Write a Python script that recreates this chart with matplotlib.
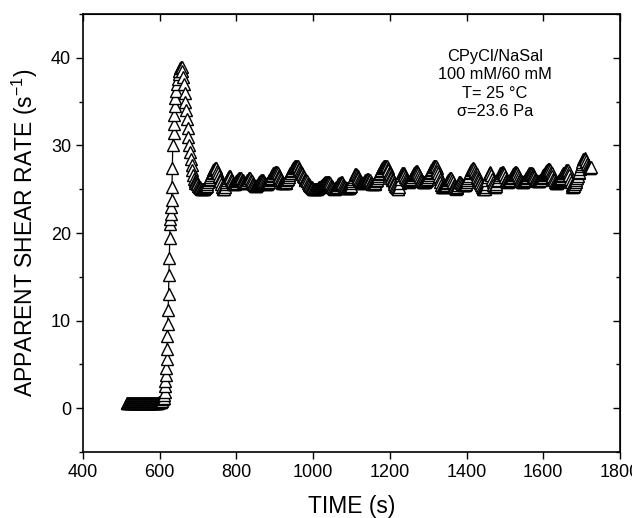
import numpy as np
import matplotlib
matplotlib.use("Agg")
import matplotlib.pyplot as plt
from matplotlib.ticker import MultipleLocator

plt.rcParams['font.family'] = ['Liberation Sans', 'DejaVu Sans']

# --- data ---
# low plateau before onset: sampled every 2 s from 514 s (shear rate 1/s)
t_low_start = 514
t_low_step = 2
v_low = [0.6, 0.6, 0.6, 0.6, 0.6, 0.6, 0.6, 0.6, 0.6, 0.6, 0.6, 0.6, 0.6, 0.6, 0.6,
         0.6, 0.6, 0.6, 0.6, 0.6, 0.6, 0.6, 0.6, 0.6, 0.6, 0.6, 0.6, 0.6, 0.6, 0.6,
         0.6, 0.6, 0.6, 0.6, 0.6, 0.6, 0.6, 0.6, 0.6, 0.6, 0.6, 0.6, 0.7, 0.7, 0.7, 0.7]

# onset, overshoot and relaxation
t_rise = [606, 608, 610, 612, 613, 614, 615, 616, 617, 618, 619, 620, 621, 622, 623,
          624, 625, 626, 627, 628, 629, 630, 631, 632, 633, 634, 636, 637, 638, 640,
          641, 643, 645, 647, 649, 651, 653, 655, 657, 659, 661, 663, 665, 667, 669,
          671, 673, 675, 677, 679, 681, 683, 685, 687, 689, 691, 693]
v_rise = [0.8, 1.0, 1.2, 1.5, 1.9, 2.5, 3.1, 3.8, 4.6, 5.6, 6.8, 8.2, 9.6, 11.2, 13.0,
          15.2, 17.2, 19.4, 21.0, 21.6, 22.2, 23.0, 23.8, 25.2, 27.4, 30.0, 31.4, 32.5, 33.5, 34.5,
          35.4, 36.2, 37.0, 37.6, 38.1, 38.5, 38.8, 39.0, 38.9, 38.5, 37.8, 37.0, 36.0, 35.0, 34.0,
          33.0, 32.0, 31.0, 30.0, 29.2, 28.5, 27.8, 27.2, 26.6, 26.2, 25.9, 25.7]

# steady state, sampled every 2 s starting at 696 s (one row = 40 s)
t_ss_start = 696
t_ss_step = 2
v_ss = [
    25.8, 25.6, 25.4, 25.3, 25.2, 25.1, 25.0, 25.0, 25.0, 25.0, 25.0, 25.1, 25.3, 25.4, 25.6, 25.8, 26.0, 26.2, 26.4, 26.6,
    26.8, 27.0, 27.2, 27.3, 27.4, 27.4, 27.4, 27.1, 26.8, 26.5, 26.2, 25.9, 25.6, 25.3, 25.0, 25.0, 25.0, 25.3, 25.6, 25.8,
    26.1, 26.3, 26.5, 26.5, 26.4, 26.1, 25.9, 25.7, 25.6, 25.6, 25.6, 25.7, 25.9, 26.0, 26.2, 26.3, 26.3, 26.3, 26.3, 26.1,
    26.0, 25.8, 25.7, 25.7, 25.7, 25.8, 26.0, 26.1, 26.3, 26.3, 26.3, 26.1, 25.9, 25.7, 25.6, 25.5, 25.4, 25.4, 25.4, 25.5,
    25.6, 25.7, 25.8, 25.9, 26.0, 26.0, 26.0, 25.9, 25.8, 25.7, 25.6, 25.6, 25.6, 25.7, 25.8, 26.0, 26.2, 26.3, 26.5, 26.6,
    26.8, 26.9, 27.0, 27.0, 27.0, 27.0, 26.9, 26.6, 26.4, 26.2, 26.0, 25.8, 25.7, 25.7, 25.7, 25.7, 25.7, 25.8, 26.0, 26.2,
    26.4, 26.6, 26.8, 26.9, 27.1, 27.2, 27.4, 27.5, 27.6, 27.6, 27.6, 27.6, 27.6, 27.4, 27.3, 27.1, 27.0, 26.8, 26.7, 26.5,
    26.4, 26.2, 26.1, 26.0, 25.9, 25.7, 25.6, 25.5, 25.4, 25.3, 25.2, 25.1, 25.0, 25.0, 25.0, 25.0, 25.0, 25.0, 25.1, 25.2,
    25.3, 25.3, 25.4, 25.4, 25.5, 25.6, 25.7, 25.7, 25.8, 25.8, 25.8, 25.8, 25.8, 25.8, 25.7, 25.5, 25.4, 25.2, 25.1, 25.0,
    25.0, 25.1, 25.2, 25.3, 25.5, 25.6, 25.7, 25.7, 25.8, 25.8, 25.7, 25.5, 25.4, 25.3, 25.2, 25.1, 25.1, 25.1, 25.1, 25.1,
    25.2, 25.4, 25.7, 25.9, 26.2, 26.4, 26.6, 26.7, 26.7, 26.6, 26.5, 26.3, 26.1, 25.9, 25.8, 25.7, 25.7, 25.7, 25.8, 25.9,
    26.0, 26.1, 26.2, 26.2, 26.2, 26.1, 26.0, 25.8, 25.7, 25.6, 25.6, 25.6, 25.6, 25.7, 25.9, 26.1, 26.3, 26.5, 26.7, 26.9,
    27.1, 27.2, 27.4, 27.5, 27.6, 27.7, 27.7, 27.7, 27.6, 27.4, 27.2, 26.9, 26.7, 26.5, 26.3, 26.1, 26.0, 25.8, 25.6, 25.4,
    25.2, 25.1, 25.0, 25.0, 25.2, 25.7, 26.2, 26.6, 26.9, 26.9, 26.8, 26.6, 26.4, 26.2, 26.0, 25.9, 25.8, 25.8, 25.9, 26.0,
    26.2, 26.4, 26.6, 26.7, 26.9, 27.0, 27.1, 27.1, 27.0, 26.8, 26.6, 26.4, 26.2, 26.0, 25.9, 25.8, 25.8, 25.8, 25.8, 25.9,
    26.0, 26.2, 26.4, 26.6, 26.8, 27.0, 27.2, 27.3, 27.5, 27.6, 27.7, 27.7, 27.6, 27.4, 27.1, 26.8, 26.5, 26.2, 25.8, 25.5,
    25.3, 25.2, 25.2, 25.3, 25.4, 25.5, 25.7, 25.8, 26.0, 26.2, 26.3, 26.3, 26.3, 26.1, 25.8, 25.5, 25.2, 25.1, 25.0, 25.1,
    25.3, 25.5, 25.8, 25.8, 25.8, 25.7, 25.6, 25.5, 25.5, 25.5, 25.5, 25.6, 25.8, 26.0, 26.3, 26.5, 26.8, 27.0, 27.2, 27.3,
    27.4, 27.4, 27.3, 27.1, 26.9, 26.7, 26.4, 26.2, 26.0, 25.8, 25.7, 25.5, 25.3, 25.1, 25.0, 25.0, 25.0, 25.3, 25.6, 26.0,
    26.4, 26.7, 27.0, 26.8, 26.6, 26.2, 25.8, 25.5, 25.2, 25.3, 25.4, 25.6, 25.9, 26.1, 26.4, 26.6, 26.8, 26.9, 27.0, 27.0,
    26.9, 26.7, 26.4, 26.1, 25.9, 25.8, 25.8, 25.9, 26.0, 26.1, 26.3, 26.4, 26.6, 26.7, 26.9, 27.0, 27.0, 26.9, 26.8, 26.6,
    26.4, 26.2, 26.0, 25.9, 25.8, 25.8, 25.8, 25.9, 26.0, 26.1, 26.3, 26.4, 26.6, 26.7, 26.8, 26.9, 26.9, 26.8, 26.7, 26.5,
    26.4, 26.2, 26.1, 26.0, 25.9, 25.9, 25.9, 25.9, 26.0, 26.1, 26.3, 26.4, 26.6, 26.7, 26.9, 27.0, 27.1, 27.2, 27.3, 27.3,
    27.3, 27.2, 27.0, 26.8, 26.5, 26.2, 26.0, 25.8, 25.7, 25.7, 25.7, 25.8, 25.9, 26.0, 26.2, 26.3, 26.5, 26.6, 26.8, 26.9,
    27.0, 27.1, 27.2, 27.2, 27.2, 27.0, 26.6, 26.2, 25.8, 25.5, 25.3, 25.3, 25.4, 25.6, 25.8, 26.0, 26.3, 26.5, 26.8, 27.0,
    27.3, 27.6, 27.9, 28.1, 28.4, 28.5, 28.6, 28.4, 28.2, 27.9, 27.6, 27.5, 27.4, 27.4, 27.5,
]

t_low = t_low_start + t_low_step * np.arange(len(v_low))
t_ss = t_ss_start + t_ss_step * np.arange(len(v_ss))

t_all = np.concatenate([t_low, t_rise, t_ss])
v_all = np.concatenate([v_low, v_rise, v_ss])

annotation = "CPyCl/NaSal\n100 mM/60 mM\nT= 25 \u00b0C\n\u03c3=23.6 Pa"

# --- figure ---
fig = plt.figure(figsize=(6.32, 5.18), dpi=100)
ax = fig.add_axes([83/632, 1-452/518, (620-83)/632, (452-14)/518])

ax.plot(t_all, v_all, '-', color='black', lw=0.9, marker='^', ms=8,
        mfc='white', mec='black', mew=1.0)

ax.set_xlim(400, 1800)
ax.set_ylim(-5, 45)
ax.xaxis.set_major_locator(MultipleLocator(200))
ax.yaxis.set_major_locator(MultipleLocator(10))
ax.yaxis.set_minor_locator(MultipleLocator(5))

for s in ax.spines.values():
    s.set_linewidth(1.2)

ax.tick_params(axis='both', which='major', direction='out', length=5, width=1.0,
               labelsize=13, top=False, right=False)
ax.tick_params(axis='y', which='minor', direction='out', length=3, width=1.0, right=False)

# mirrored ticks pointing inward on top and right
axt = ax.secondary_xaxis('top')
axt.xaxis.set_major_locator(MultipleLocator(200))
axt.tick_params(direction='in', length=5, width=1.0, labeltop=False)
axr = ax.secondary_yaxis('right')
axr.yaxis.set_major_locator(MultipleLocator(10))
axr.yaxis.set_minor_locator(MultipleLocator(5))
axr.tick_params(which='major', direction='in', length=5, width=1.0, labelright=False)
axr.tick_params(which='minor', direction='in', length=3, width=1.0)

ax.set_xlabel('TIME (s)', fontsize=16.5, labelpad=10)
ax.set_ylabel('APPARENT SHEAR RATE (s$^{\\mathregular{-1}}$)', fontsize=16.5, labelpad=8)

ax.text(1474, 41.05, annotation, ha='center', va='top',
        fontsize=11.8, linespacing=1.3)

fig.savefig('out.png', dpi=100)
